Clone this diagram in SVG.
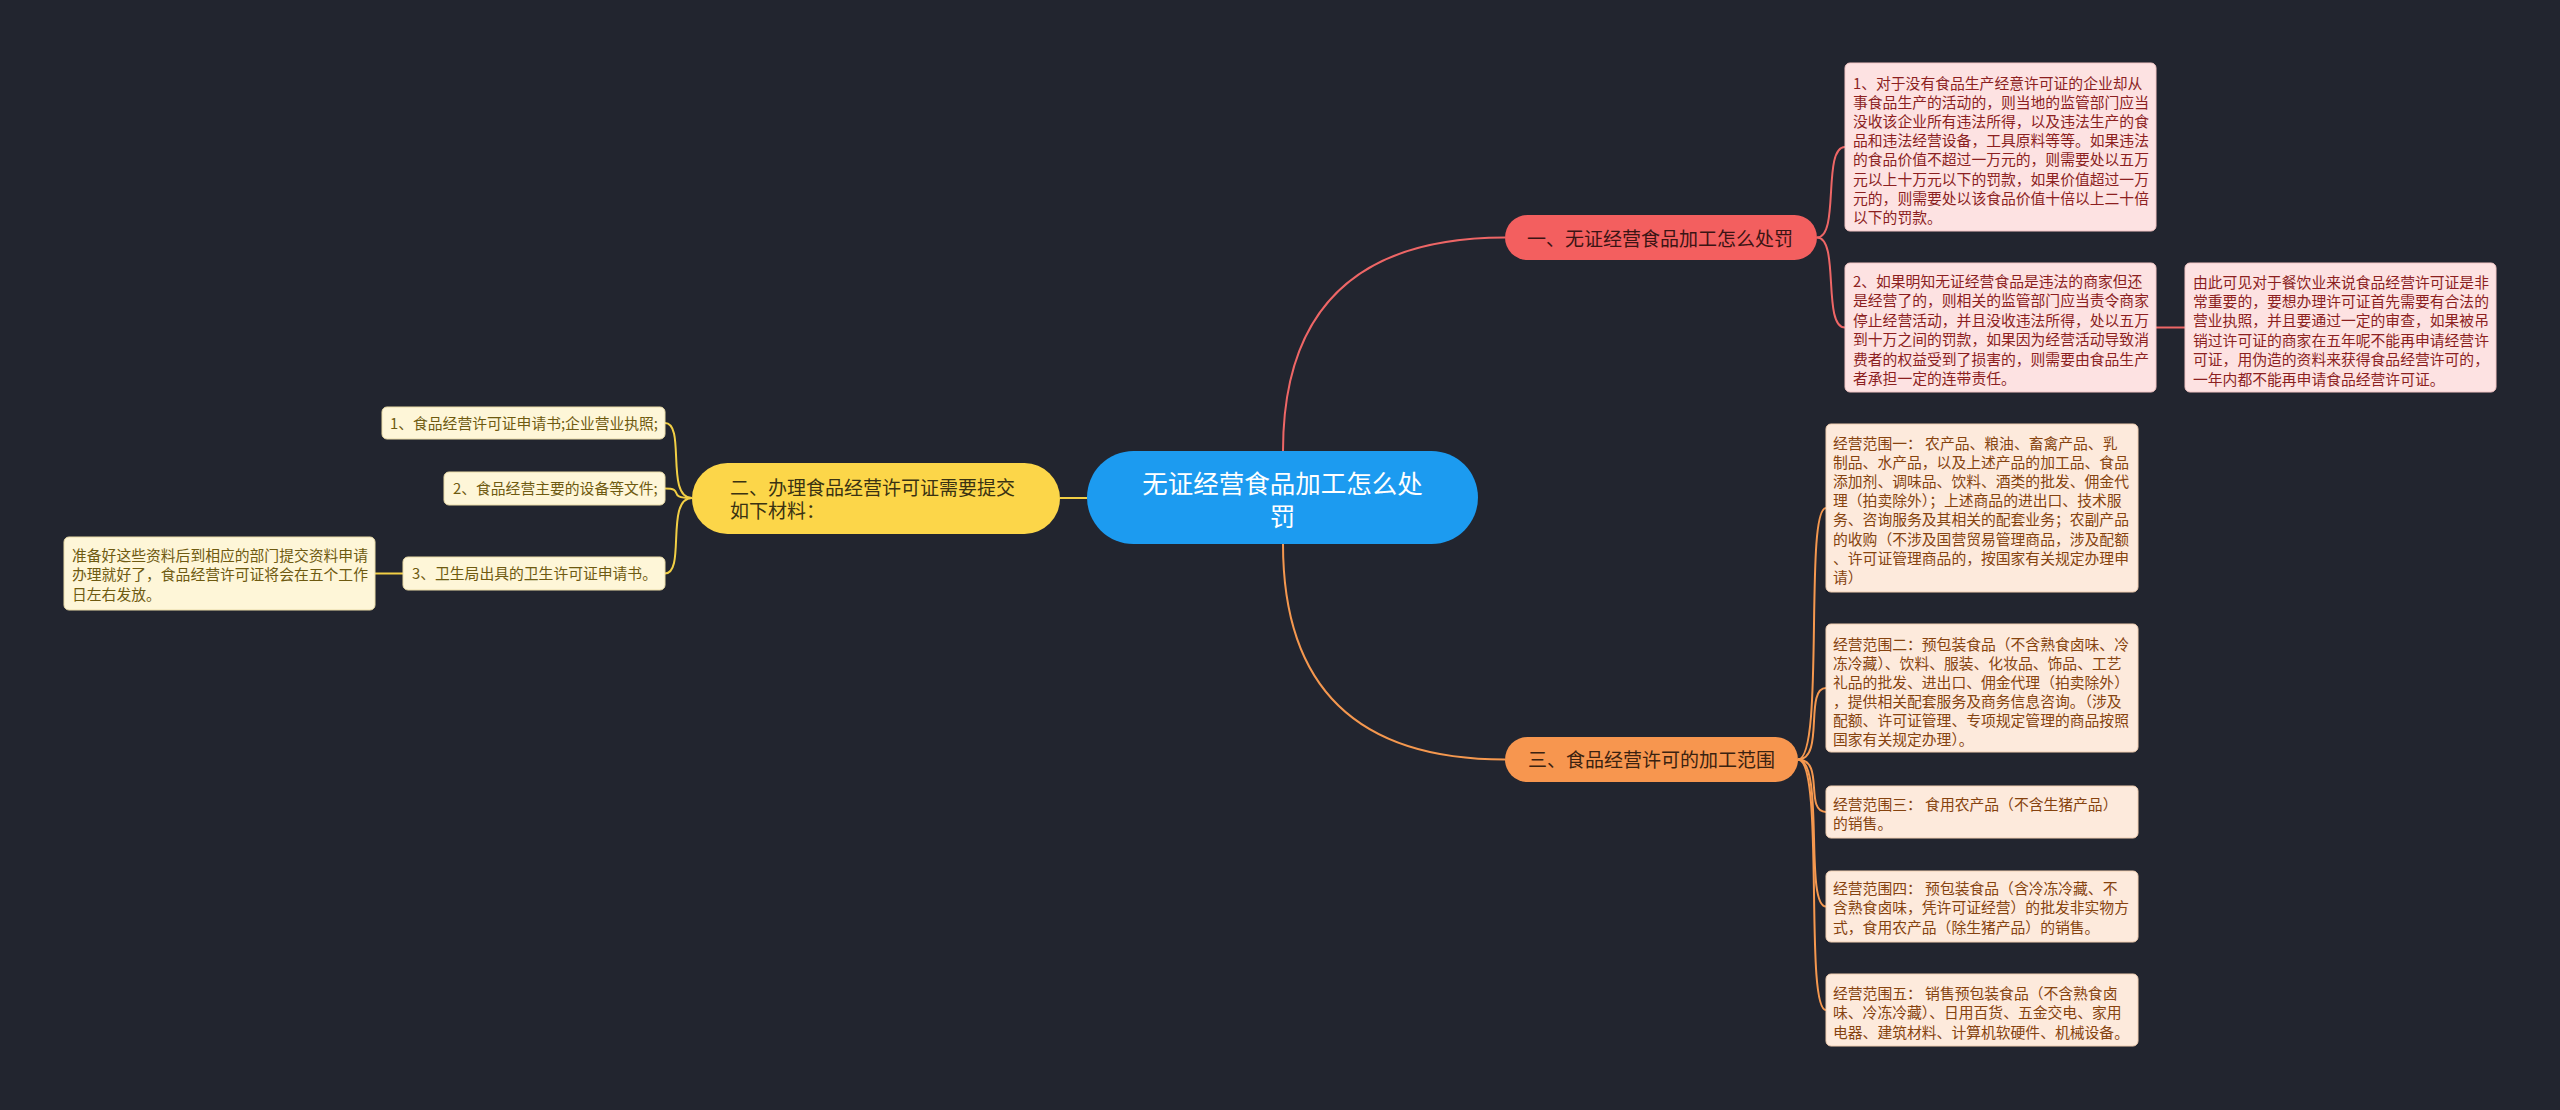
<svg xmlns="http://www.w3.org/2000/svg" width="2560" height="1110" viewBox="0 0 2560 1110">
<style>
text{font-family:"Noto Sans CJK SC","Noto Sans",sans-serif;}
.sm{font-size:14.8px;}
.pk rect{fill:#fde2e2;stroke:#f3c6c6;stroke-width:1;}
.pk text{fill:#8c1f1f;}
.or rect{fill:#fdeadc;stroke:#f1cfb2;stroke-width:1;}
.or text{fill:#86430f;}
.ye rect{fill:#fef6d8;stroke:#eadca8;stroke-width:1;}
.ye text{fill:#6e5a10;}
.lr{fill:none;stroke:#ee6666;stroke-width:2;}
.lo{fill:none;stroke:#f5984f;stroke-width:2;}
.ly{fill:none;stroke:#f2cf45;stroke-width:2;}
</style>
<rect x="0" y="0" width="2560" height="1110" fill="#22252f"/>
<g id="connectors">
<path class="lr" d="M1283 451 Q1283 237.5 1505 237.5"/>
<path class="lo" d="M1283 544 Q1283 759.5 1505 759.5"/>
<path class="ly" d="M1087 498 L1060 498"/>
<path class="lr" d="M1817 237.5 C1840 237.5 1822 147 1845 147"/>
<path class="lr" d="M1817 237.5 C1840 237.5 1822 327.5 1845 327.5"/>
<path class="lr" d="M2156 327.5 L2185 327.5"/>
<path class="lo" d="M1798 759.5 C1825 759.5 1804 508 1826 508"/>
<path class="lo" d="M1798 759.5 C1825 759.5 1804 688 1826 688"/>
<path class="lo" d="M1798 759.5 C1825 759.5 1804 812 1826 812"/>
<path class="lo" d="M1798 759.5 C1825 759.5 1804 906.5 1826 906.5"/>
<path class="lo" d="M1798 759.5 C1825 759.5 1804 1010 1826 1010"/>
<path class="ly" d="M692 498 C665 498 686 423 665 423"/>
<path class="ly" d="M692 498 C665 498 686 488.5 665 488.5"/>
<path class="ly" d="M692 498 C665 498 686 573.5 665 573.5"/>
<path class="ly" d="M403 573.5 L375 573.5"/>
</g>
<g id="center">
<rect x="1087" y="451" width="391" height="93" rx="46.5" fill="#1c9bf0"/>
<text x="1282.5" y="492.5" font-size="25.5" fill="#ffffff" text-anchor="middle">无证经营食品加工怎么处</text>
<text x="1282.5" y="526" font-size="25.5" fill="#ffffff" text-anchor="middle">罚</text>
</g>
<g id="n1">
<rect x="1505" y="215" width="312" height="45" rx="22.5" fill="#f35f5f"/>
<text x="1527" y="246" font-size="19" fill="#3b1414">一、无证经营食品加工怎么处罚</text>
</g>
<g id="n2">
<rect x="692" y="463" width="368" height="71" rx="35.5" fill="#fcd649"/>
<text x="730" y="494.5" font-size="19" fill="#3a3212">二、办理食品经营许可证需要提交</text>
<text x="730" y="517.5" font-size="19" fill="#3a3212">如下材料：</text>
</g>
<g id="n3">
<rect x="1505" y="737" width="293" height="45" rx="22.5" fill="#f7964f"/>
<text x="1528" y="767" font-size="19" fill="#3b2210">三、食品经营许可的加工范围</text>
</g>
<g id="p1" class="pk">
<rect x="1845" y="63" width="311" height="168" rx="5"/>
<text class="sm" x="1853" y="88.6"><tspan x="1853">1、对于没有食品生产经意许可证的企业却从</tspan><tspan x="1853" dy="19.2">事食品生产的活动的，则当地的监管部门应当</tspan><tspan x="1853" dy="19.2">没收该企业所有违法所得，以及违法生产的食</tspan><tspan x="1853" dy="19.2">品和违法经营设备，工具原料等等。如果违法</tspan><tspan x="1853" dy="19.2">的食品价值不超过一万元的，则需要处以五万</tspan><tspan x="1853" dy="19.2">元以上十万元以下的罚款，如果价值超过一万</tspan><tspan x="1853" dy="19.2">元的，则需要处以该食品价值十倍以上二十倍</tspan><tspan x="1853" dy="19.2">以下的罚款。</tspan></text>
</g>
<g id="p2" class="pk">
<rect x="1845" y="263" width="311" height="129" rx="5"/>
<text class="sm" x="1853" y="287"><tspan x="1853">2、如果明知无证经营食品是违法的商家但还</tspan><tspan x="1853" dy="19.4">是经营了的，则相关的监管部门应当责令商家</tspan><tspan x="1853" dy="19.4">停止经营活动，并且没收违法所得，处以五万</tspan><tspan x="1853" dy="19.4">到十万之间的罚款，如果因为经营活动导致消</tspan><tspan x="1853" dy="19.4">费者的权益受到了损害的，则需要由食品生产</tspan><tspan x="1853" dy="19.4">者承担一定的连带责任。</tspan></text>
</g>
<g id="p3" class="pk">
<rect x="2185" y="263" width="311" height="129" rx="5"/>
<text class="sm" x="2193" y="287.5"><tspan x="2193">由此可见对于餐饮业来说食品经营许可证是非</tspan><tspan x="2193" dy="19.4">常重要的，要想办理许可证首先需要有合法的</tspan><tspan x="2193" dy="19.4">营业执照，并且要通过一定的审查，如果被吊</tspan><tspan x="2193" dy="19.4">销过许可证的商家在五年呢不能再申请经营许</tspan><tspan x="2193" dy="19.4">可证，用伪造的资料来获得食品经营许可的，</tspan><tspan x="2193" dy="19.4">一年内都不能再申请食品经营许可证。</tspan></text>
</g>
<g id="o1" class="or">
<rect x="1826" y="424" width="312" height="168" rx="5"/>
<text class="sm" x="1833" y="448.6"><tspan x="1833">经营范围一： 农产品、粮油、畜禽产品、乳</tspan><tspan x="1833" dy="19.2">制品、水产品，以及上述产品的加工品、食品</tspan><tspan x="1833" dy="19.2">添加剂、调味品、饮料、酒类的批发、佣金代</tspan><tspan x="1833" dy="19.2">理（拍卖除外）；上述商品的进出口、技术服</tspan><tspan x="1833" dy="19.2">务、咨询服务及其相关的配套业务；农副产品</tspan><tspan x="1833" dy="19.2">的收购（不涉及国营贸易管理商品，涉及配额</tspan><tspan x="1833" dy="19.2">、许可证管理商品的，按国家有关规定办理申</tspan><tspan x="1833" dy="19.2">请）</tspan></text>
</g>
<g id="o2" class="or">
<rect x="1826" y="624" width="312" height="128" rx="5"/>
<text class="sm" x="1833" y="649.6"><tspan x="1833">经营范围二：预包装食品（不含熟食卤味、冷</tspan><tspan x="1833" dy="19.1">冻冷藏）、饮料、服装、化妆品、饰品、工艺</tspan><tspan x="1833" dy="19.1">礼品的批发、进出口、佣金代理（拍卖除外）</tspan><tspan x="1833" dy="19.1">，提供相关配套服务及商务信息咨询。（涉及</tspan><tspan x="1833" dy="19.1">配额、许可证管理、专项规定管理的商品按照</tspan><tspan x="1833" dy="19.1">国家有关规定办理）。</tspan></text>
</g>
<g id="o3" class="or">
<rect x="1826" y="786" width="312" height="52" rx="5"/>
<text class="sm" x="1833" y="809.6"><tspan x="1833">经营范围三： 食用农产品（不含生猪产品）</tspan><tspan x="1833" dy="19.6">的销售。</tspan></text>
</g>
<g id="o4" class="or">
<rect x="1826" y="871" width="312" height="71" rx="5"/>
<text class="sm" x="1833" y="893.6"><tspan x="1833">经营范围四： 预包装食品（含冷冻冷藏、不</tspan><tspan x="1833" dy="19.6">含熟食卤味，凭许可证经营）的批发非实物方</tspan><tspan x="1833" dy="19.6">式，食用农产品（除生猪产品）的销售。</tspan></text>
</g>
<g id="o5" class="or">
<rect x="1826" y="974" width="312" height="72" rx="5"/>
<text class="sm" x="1833" y="998.6"><tspan x="1833">经营范围五： 销售预包装食品（不含熟食卤</tspan><tspan x="1833" dy="19.5">味、冷冻冷藏）、日用百货、五金交电、家用</tspan><tspan x="1833" dy="19.5">电器、建筑材料、计算机软硬件、机械设备。</tspan></text>
</g>
<g id="y1" class="ye">
<rect x="382" y="407" width="283" height="32" rx="5"/>
<text class="sm" x="390" y="429">1、食品经营许可证申请书;企业营业执照;</text>
</g>
<g id="y2" class="ye">
<rect x="444" y="472" width="221" height="33" rx="5"/>
<text class="sm" x="453" y="494">2、食品经营主要的设备等文件;</text>
</g>
<g id="y3" class="ye">
<rect x="403" y="557" width="262" height="33" rx="5"/>
<text class="sm" x="412" y="579">3、卫生局出具的卫生许可证申请书。</text>
</g>
<g id="y4" class="ye">
<rect x="64" y="537" width="311" height="73" rx="5"/>
<text class="sm" x="72" y="560.6"><tspan x="72">准备好这些资料后到相应的部门提交资料申请</tspan><tspan x="72" dy="19.5">办理就好了，食品经营许可证将会在五个工作</tspan><tspan x="72" dy="19.5">日左右发放。</tspan></text>
</g>
</svg>
